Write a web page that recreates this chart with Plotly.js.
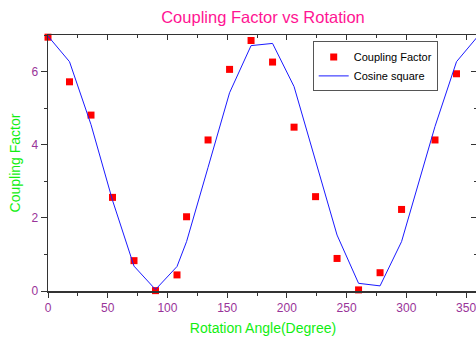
<!DOCTYPE html>
<html>
<head>
<meta charset="utf-8">
<script src="https://cdn.plot.ly/plotly-3.0.1.min.js"></script>
<style>
html,body{margin:0;padding:0;overflow:hidden;background:#fff;}
#chart{width:480px;height:340px;}
</style>
</head>
<body>
<div id="chart"></div>
<script>
// Measured data (angle in degrees)
var angles = [0, 18, 36, 54, 72, 90, 108, 116, 134, 152, 170, 188, 206, 224, 242, 260, 278, 296, 324, 342];
var couplingFactor = [6.94, 5.72, 4.81, 2.56, 0.83, 0.01, 0.44, 2.03, 4.13, 6.06, 6.85, 6.26, 4.48, 2.58, 0.89, 0.03, 0.50, 2.23, 4.13, 5.94];
var lineAngles = [0, 18, 36, 54, 72, 90, 108, 116, 134, 152, 170, 188, 206, 224, 242, 260, 278, 296, 324, 342, 360];
var cosineSquare = [6.97, 6.27, 4.55, 2.48, 0.68, 0.04, 0.67, 1.35, 3.38, 5.42, 6.71, 6.77, 5.59, 3.58, 1.53, 0.21, 0.14, 1.35, 4.50, 6.27, 6.97];
var xTickVals = [0, 50, 100, 150, 200, 250, 300, 350];
var yTickVals = [0, 2, 4, 6];

var FONT = 'Arial, "Liberation Sans", sans-serif';
var TICKCOL = '#993399';
var AXCOL = '#333333';

var traces = [
  {
    x: angles, y: couplingFactor, type: 'scatter', mode: 'markers',
    name: 'Coupling Factor',
    marker: {symbol: 'square', size: 7, color: '#ff0000'},
    cliponaxis: false
  },
  {
    x: lineAngles, y: cosineSquare, type: 'scatter', mode: 'lines',
    name: 'Cosine square', xaxis: 'x2', yaxis: 'y2',
    line: {color: '#1a1aff', width: 1}
  }
];

var layout = {
  width: 480, height: 340,
  margin: {l: 48, r: 2, t: 35, b: 49},
  paper_bgcolor: '#ffffff', plot_bgcolor: '#ffffff',
  font: {family: FONT, size: 12, color: TICKCOL},
  showlegend: true,
  title: {
    text: 'Coupling Factor vs Rotation',
    font: {family: FONT, size: 16.5, color: '#ff1493'},
    x: 0.5, xref: 'paper', xanchor: 'center',
    y: 0.95, yref: 'container', yanchor: 'middle'
  },
  xaxis: {
    range: [0, 360], showgrid: false, zeroline: false,
    showline: true, linecolor: AXCOL, linewidth: 1.5,
    tickvals: xTickVals, ticks: 'outside', ticklen: 5, tickwidth: 1, tickcolor: AXCOL,
    minor: {dtick: 25, tick0: 0, ticks: 'outside', ticklen: 3, tickcolor: AXCOL, showgrid: false},
    tickfont: {family: FONT, size: 12, color: TICKCOL},
    title: {text: 'Rotation Angle(Degree)', font: {family: FONT, size: 14, color: '#11ee11'}, standoff: 9}
  },
  yaxis: {
    range: [0, 7.0], showgrid: false, zeroline: false,
    showline: true, linecolor: AXCOL, linewidth: 1.5,
    tickvals: yTickVals, ticks: 'outside', ticklen: 6, tickwidth: 1, tickcolor: AXCOL,
    minor: {dtick: 1, tick0: 0, ticks: 'outside', ticklen: 3, tickcolor: AXCOL, showgrid: false},
    tickfont: {family: FONT, size: 12, color: TICKCOL},
    title: {text: 'Coupling Factor', font: {family: FONT, size: 14, color: '#11ee11'}, standoff: 7}
  },
  xaxis2: {
    overlaying: 'x', side: 'top', anchor: 'y2', range: [0, 360],
    showgrid: false, zeroline: false, showline: true, linecolor: AXCOL, linewidth: 1.5,
    tickvals: xTickVals, ticks: 'inside', ticklen: 5, tickcolor: AXCOL, showticklabels: false,
    minor: {dtick: 25, tick0: 0, ticks: 'inside', ticklen: 3, tickcolor: AXCOL, showgrid: false}
  },
  yaxis2: {
    overlaying: 'y', side: 'right', anchor: 'x2', range: [0, 7.0],
    showgrid: false, zeroline: false, showline: true, linecolor: AXCOL, linewidth: 1.5,
    tickvals: yTickVals, ticks: 'inside', ticklen: 7, tickcolor: AXCOL, showticklabels: false,
    minor: {dtick: 1, tick0: 0, ticks: 'inside', ticklen: 4, tickcolor: AXCOL, showgrid: false}
  },
  legend: {
    x: 0.6156, y: 0.975, xanchor: 'left', yanchor: 'top',
    bgcolor: '#ffffff', bordercolor: '#555555', borderwidth: 1,
    font: {family: FONT, size: 11, color: '#000000'},
    itemwidth: 30, tracegroupgap: 0
  }
};

Plotly.newPlot('chart', traces, layout, {displayModeBar: false, staticPlot: true});
</script>
</body>
</html>
